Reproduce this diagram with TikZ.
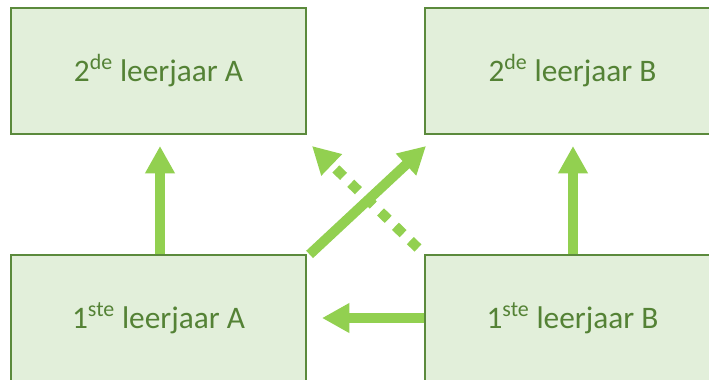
\documentclass[tikz,border=0pt]{standalone}
\usepackage{fontspec}
\setmainfont{Carlito}
\usetikzlibrary{arrows.meta}

\definecolor{boxfill}{HTML}{E2EFDA}
\definecolor{boxline}{HTML}{5B8A3C}
\definecolor{boxtext}{HTML}{548235}
\definecolor{pijl}{HTML}{92D050}

\tikzset{
  jaar/.style={draw=boxline,line width=0.9pt,fill=boxfill,text=boxtext,
    minimum width=221.25pt,minimum height=94.5pt,inner sep=0pt,
    font=\fontsize{23.5}{26}\selectfont},
  overgang/.style={pijl,line width=7.5pt,
    -{Triangle[width=21pt,length=20.5pt]}},
  stippel/.style={overgang,dash pattern=on 8pt off 7.5pt}
}

\begin{document}
\begin{tikzpicture}[x=0.75pt,y=-0.75pt]
  \useasboundingbox (0,0) rectangle (709,379);
  \clip (0,0) rectangle (709,379);
  \node[jaar] (tweedeA) at (158.5,71) {2\textsuperscript{de} leerjaar A};
  \node[jaar] (tweedeB) at (572.5,71) {2\textsuperscript{de} leerjaar B};
  \node[jaar] (eersteA) at (158.5,318) {1\textsuperscript{ste} leerjaar A};
  \node[jaar] (eersteB) at (572.5,318) {1\textsuperscript{ste} leerjaar B};
  \coordinate (tipA) at (160,146);
  \coordinate (tipB) at (573,146);
  \coordinate (tipX) at (426,146);
  \coordinate (tipS) at (312,146);
  \coordinate (tipH) at (322,318);
  \coordinate (vanS) at (418,248);
  \draw[overgang] (eersteA.north -| tipA) -- (tipA);
  \draw[overgang] (eersteB.north -| tipB) -- (tipB);
  \draw[overgang] (eersteB.west) -- (tipH);
  \draw[overgang] (eersteA.north east) ++(3,0) -- (tipX);
  \draw[stippel] (vanS) -- (tipS);
\end{tikzpicture}
\end{document}
